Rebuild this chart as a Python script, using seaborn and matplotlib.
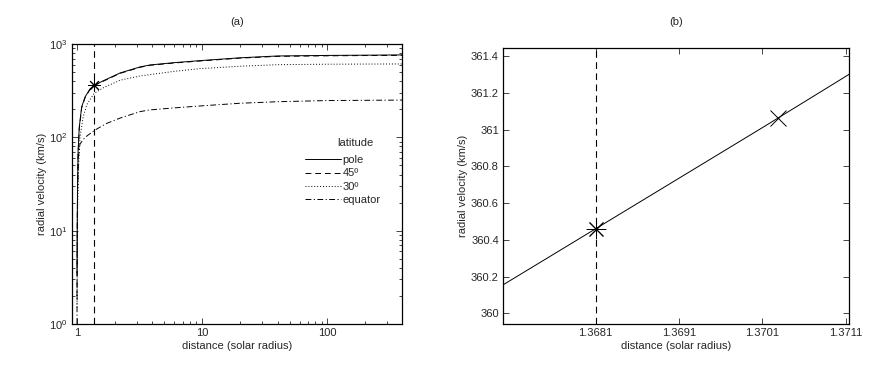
import matplotlib
matplotlib.use("Agg")
import matplotlib.pyplot as plt
import matplotlib.ticker as mticker
import seaborn as sns
import pandas as pd

# curves: distance (solar radius) vs radial velocity (km/s)
pole_x = [1.0, 1.005, 1.01, 1.02, 1.043, 1.09, 1.16, 1.27, 1.3681, 1.61, 2.21,
          3.2, 3.84, 6.0, 9.6, 20, 40, 100, 200, 400]
pole_v = [3.5, 12, 30, 70, 129, 212, 271, 330, 360.46, 402, 490,
          569, 597, 632, 664, 712, 745, 755, 760, 765]
lat45_x = [1.0, 1.005, 1.01, 1.02, 1.043, 1.09, 1.16, 1.27, 1.3681, 1.61, 2.21,
           3.2, 3.84, 6.0, 9.6, 20, 40, 100, 200, 400]
lat45_v = [2.0, 10, 27, 66, 125, 207, 266, 326, 358, 398, 485,
           564, 592, 627, 658, 706, 738, 748, 753, 756]
lat30_x = [1.0, 1.01, 1.03, 1.057, 1.12, 1.2, 1.3681, 1.61, 2.21, 3.2, 6.0,
           9.6, 20, 40, 100, 400]
lat30_v = [1.5, 15, 50, 100, 165, 225, 295, 338, 410, 455, 510,
           545, 578, 601, 608, 612]
equator_x = [1.0, 1.005, 1.01, 1.025, 1.057, 1.16, 1.3681, 1.7, 2.21, 3.2, 3.84,
             6.0, 9.6, 20, 40, 100, 400]
equator_v = [1.0, 8, 25, 60, 85, 100, 118, 140, 161, 189, 197,
             207, 217, 232, 241, 248, 251]

# zoomed pole curve, panel (b)
zoom_x = [1.36699, 1.3681, 1.3691, 1.3701, 1.37114]
zoom_v = [360.155, 360.46, 360.735, 361.01, 361.30]

sonic_x = 1.3681
star_v = 360.46
cross_x = 1.37029
cross_v = 361.06

sns.set_theme(style="ticks")
plt.rcParams["font.family"] = ["Liberation Sans", "DejaVu Sans"]
plt.rcParams["font.size"] = 8
plt.rcParams["axes.linewidth"] = 0.9

fig = plt.figure(figsize=(8.81, 3.83), dpi=100)
ax1 = fig.add_axes([0.0817, 0.154, 0.3746, 0.731])
ax2 = fig.add_axes([0.571, 0.154, 0.3927, 0.7214])

curves = [
    (pole_x, pole_v, "pole", "-"),
    (lat45_x, lat45_v, "45º", (0, (6, 4))),
    (lat30_x, lat30_v, "30º", (0, (1, 2))),
    (equator_x, equator_v, "equator", (0, (6, 2.5, 1.2, 2.5))),
]
for xs, vs, name, ls in curves:
    df = pd.DataFrame({"distance": xs, "velocity": vs})
    sns.lineplot(data=df, x="distance", y="velocity", ax=ax1, color="black",
                 linestyle=ls, linewidth=0.7, label=name)

ax1.axvline(sonic_x, color="black", linestyle=(0, (6, 4)), linewidth=0.8)
ax1.plot([sonic_x], [star_v], marker=(8, 2, 0), markersize=9, color="black",
         markeredgewidth=0.7, linestyle="none")
ax1.set_xscale("log")
ax1.set_yscale("log")
ax1.set_xlim(0.912, 395)
ax1.set_ylim(1, 1000)
ax1.xaxis.set_major_formatter(mticker.FuncFormatter(lambda v, p: f"{v:g}"))
ax1.set_xlabel("distance (solar radius)", fontsize=8, labelpad=2)
ax1.set_ylabel("radial velocity (km/s)", fontsize=8, labelpad=2)
ax1.set_title("(a)", fontsize=8, pad=14)
ax1.legend(frameon=False, loc="center left", bbox_to_anchor=(0.706, 0.514),
           borderaxespad=0, borderpad=0, fontsize=8,
           handlelength=3.2, handletextpad=0.2, labelspacing=0.3)
ax1.text(0.858, 0.646, "latitude", transform=ax1.transAxes, ha="center",
         va="center", fontsize=8)

sns.lineplot(x=zoom_x, y=zoom_v, ax=ax2, color="black", linewidth=0.7)
ax2.axvline(sonic_x, color="black", linestyle=(0, (6, 4)), linewidth=0.8)
ax2.plot([sonic_x], [star_v], marker=(8, 2, 0), markersize=14, color="black",
         markeredgewidth=0.7, linestyle="none")
ax2.plot([cross_x], [cross_v], marker="x", markersize=11, color="black",
         markeredgewidth=0.7, linestyle="none")
ax2.set_xlim(1.36699, 1.37114)
ax2.set_ylim(359.942, 361.445)
ax2.set_xticks([1.3681, 1.3691, 1.3701, 1.3711])
ax2.xaxis.set_major_formatter(mticker.FormatStrFormatter("%.4f"))
ax2.set_yticks([360, 360.2, 360.4, 360.6, 360.8, 361, 361.2, 361.4])
ax2.yaxis.set_major_formatter(mticker.FuncFormatter(lambda v, p: f"{v:g}"))
ax2.set_xlabel("distance (solar radius)", fontsize=8, labelpad=2)
ax2.set_ylabel("radial velocity (km/s)", fontsize=8, labelpad=2)
ax2.set_title("(b)", fontsize=8, pad=16)

for ax in (ax1, ax2):
    ax.tick_params(which="both", direction="in", top=True, right=True,
                   labelsize=8, width=0.6, pad=3)
    ax.tick_params(which="major", length=4)
    ax.tick_params(which="minor", length=2)
    for s in ax.spines.values():
        s.set_color("black")

fig.savefig("out.png", dpi=100)
